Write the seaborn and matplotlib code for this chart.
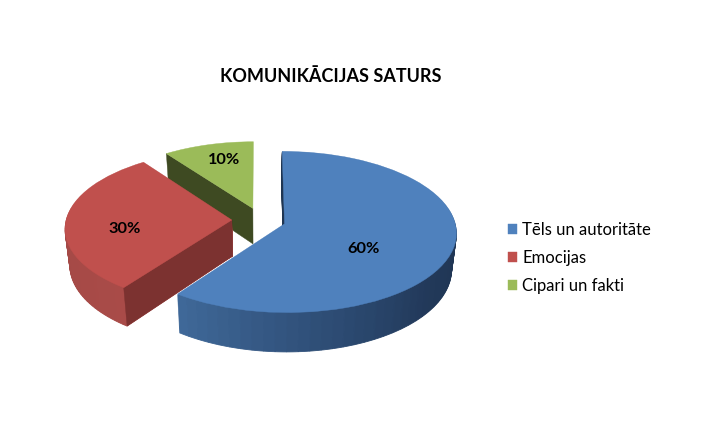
import numpy as np
import seaborn as sns
import matplotlib
matplotlib.use('Agg')
import matplotlib.pyplot as plt
from matplotlib.transforms import Transform

# data
labels = ['Tēls un autoritāte', 'Emocijas', 'Cipari un fakti']
shares = [0.60, 0.30, 0.10]
pct_labels = ['60%', '30%', '10%']

top_colors = ['#4f81bd', '#c0504d', '#9bbb59']
face_colors = ['#1f3552', '#7c3230', '#3e4a22']
wall_ramps = [
    ['#1f3552', '#1f3552', '#1f3552', '#22395a', '#2f4f78', '#3f6898'],
    ['#a94b48', '#a44946', '#9c4442'],
    None,  # outer wall of the back slice is never seen
]
radii = [1.0, 0.975, 0.95]
nudge = [(0, 0), (-0.003, 0), (0.012, 0)]
explode = 0.157
n_sub = 60
depth = 36

sns.set_theme(style='white')
plt.rcParams['font.family'] = ['Lato', 'DejaVu Sans']


class PieProject(Transform):
    """Tilt the flat pie into picture pixels, with a bit of perspective."""
    input_dims = 2
    output_dims = 2

    def __init__(self, d=0.0):
        super().__init__()
        self.d = d

    def transform_non_affine(self, values):
        values = np.asarray(values)
        u, v = values[:, 0], values[:, 1]
        w = 1 + 0.1 * v
        s = 1 - 0.025 * self.d / depth
        x = 259 + 170 * s * u / w
        y = 220 - 79 * v / w + self.d * (1 - 0.08 * v / w)
        return np.column_stack([x, y])


fig, ax = plt.subplots(figsize=(7.02, 4.34), dpi=100)
fig.subplots_adjust(0, 0, 1, 1)

# back slice first, so the front ones cover it
starts = 90 - 360 * np.concatenate([[0], np.cumsum(shares)[:-1]])
handles = {}
for rank, i in enumerate([2, 1, 0]):
    start = starts[i]
    sweep = 360 * shares[i]
    mid = np.radians(start - sweep / 2)
    center = (explode * np.cos(mid) + nudge[i][0], explode * np.sin(mid) + nudge[i][1])

    # outer wall, one pie per pixel of depth
    if wall_ramps[i] is not None:
        ramp = sns.blend_palette(wall_ramps[i], n_sub)
        for d in range(depth, 0, -1):
            wedges, _ = ax.pie(np.full(n_sub, shares[i] / n_sub), colors=ramp, center=center,
                               radius=radii[i], startangle=start, counterclock=False,
                               normalize=False,
                               wedgeprops={'zorder': rank * 10 + 1, 'linewidth': 0.6})
            for wedge, c in zip(wedges, ramp):
                wedge.set_edgecolor(c)
                wedge.set_transform(PieProject(d) + ax.transData)

    # flat cut face below the slice edge
    edge = np.radians(start)
    edge_xy = (center[0] + radii[i] * np.cos(edge), center[1] + radii[i] * np.sin(edge))
    quad = np.vstack([PieProject(0).transform_non_affine(np.array([center, edge_xy])),
                      PieProject(depth).transform_non_affine(np.array([edge_xy, center]))])
    ax.fill(quad[:, 0], quad[:, 1], color=face_colors[i], lw=0.3, zorder=rank * 10 + 2)

    # top face
    wedges, _ = ax.pie([shares[i]], colors=[top_colors[i]], center=center, radius=radii[i],
                       startangle=start, counterclock=False, normalize=False,
                       wedgeprops={'zorder': rank * 10 + 3, 'linewidth': 0.3,
                                   'edgecolor': top_colors[i]})
    wedges[0].set_transform(PieProject(0) + ax.transData)
    handles[i] = wedges[0]

ax.set_aspect('auto')
ax.set_xlim(0, 702)
ax.set_ylim(434, 0)
ax.set_xticks([])
ax.set_yticks([])
ax.set_frame_on(False)

# percent labels
for txt, x, y in zip(pct_labels, [364, 125, 224], [249, 229, 160]):
    ax.text(x, y, txt, ha='center', va='center', fontsize=11.8, fontweight='bold',
            color='black', zorder=50)

ax.text(330.5, 76, 'KOMUNIKĀCIJAS SATURS', ha='center', va='center',
        fontsize=13, fontweight='bold', color='black')

ax.legend([handles[i] for i in range(3)], labels, loc='center left',
          bbox_to_anchor=(498 / 702, 1 - 258 / 434), frameon=False, fontsize=12,
          handlelength=0.55, handleheight=0.55, handletextpad=0.3, labelspacing=0.74,
          labelcolor='black', borderpad=0, borderaxespad=0.6)

fig.savefig('out.png', dpi=100)
